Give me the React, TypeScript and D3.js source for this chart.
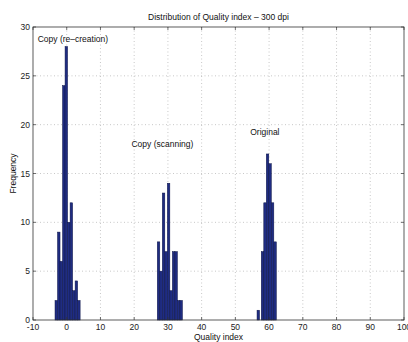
import React from 'react';
import * as d3 from 'd3';

// histogram bins (bin centre, count)
const binWidth = 0.745;
const recreationCenters = [-3.1, -2.36, -1.61, -0.87, -0.12, 0.62, 1.37, 2.11, 2.86, 3.6];
const recreationCounts = [2, 9, 6, 24, 28, 10, 12, 3, 4, 2];
const scanningCenters = [27.22, 27.97, 28.71, 29.46, 30.2, 30.95, 31.69, 32.44, 33.18, 33.93];
const scanningCounts = [8, 5, 13, 7, 14, 3, 7, 7, 2, 2];
const originalCenters = [56.8, 58.05, 58.8, 59.54, 60.29, 61.03, 61.78];
const originalCounts = [1, 7, 12, 17, 16, 12, 8];

const xTicks = [-10, 0, 10, 20, 30, 40, 50, 60, 70, 80, 90, 100];
const yTicks = [0, 5, 10, 15, 20, 25, 30];

const labels = [
  { text: 'Copy (re\u2013creation)', x: -8.6, y: 28.8 },
  { text: 'Copy (scanning)', x: 19.2, y: 18.0 },
  { text: 'Original', x: 54.4, y: 19.25 },
];

const W = 408;
const H = 342;
const font = '"Liberation Sans", Arial, Helvetica, sans-serif';

export default function App() {
  const left = 33, right = 404, top = 27, bottom = 320;
  const x = d3.scaleLinear().domain([-10, 100]).range([left, right]);
  const y = d3.scaleLinear().domain([0, 30]).range([bottom, top]);

  const bins = [
    ...recreationCenters.map((c, i) => ({ c, n: recreationCounts[i] })),
    ...scanningCenters.map((c, i) => ({ c, n: scanningCounts[i] })),
    ...originalCenters.map((c, i) => ({ c, n: originalCounts[i] })),
  ];

  const tick = 3;

  return (
    <svg width={W} height={H} style={{ position: 'absolute', left: 0, top: 0, background: '#fff' }}
      fontFamily={font}>
      {/* grid */}
      {xTicks.slice(1, -1).map(t => (
        <line key={'gx' + t} x1={x(t)} x2={x(t)} y1={top} y2={bottom}
          stroke="#b0b0b0" strokeWidth={0.7} strokeDasharray="1,2.5" />
      ))}
      {yTicks.slice(1, -1).map(t => (
        <line key={'gy' + t} x1={left} x2={right} y1={y(t)} y2={y(t)}
          stroke="#b0b0b0" strokeWidth={0.7} strokeDasharray="1,2.5" />
      ))}

      {/* bars */}
      {bins.map((b, i) => (
        <rect key={i} x={x(b.c - binWidth / 2)} y={y(b.n)}
          width={x(b.c + binWidth / 2) - x(b.c - binWidth / 2)} height={y(0) - y(b.n)}
          fill="#1f2c82" stroke="#0c1445" strokeWidth={0.5} />
      ))}

      {/* box */}
      <rect x={left} y={top} width={right - left} height={bottom - top}
        fill="none" stroke="#333" strokeWidth={0.8} />

      {/* ticks */}
      {xTicks.map(t => (
        <g key={'tx' + t}>
          <line x1={x(t)} x2={x(t)} y1={bottom} y2={bottom - tick} stroke="#333" strokeWidth={0.7} />
          <line x1={x(t)} x2={x(t)} y1={top} y2={top + tick} stroke="#333" strokeWidth={0.7} />
          <text x={x(t)} y={330} fontSize={8.5} textAnchor="middle" fill="#222">{t}</text>
        </g>
      ))}
      {yTicks.map(t => (
        <g key={'ty' + t}>
          <line x1={left} x2={left + tick} y1={y(t)} y2={y(t)} stroke="#333" strokeWidth={0.7} />
          <line x1={right} x2={right - tick} y1={y(t)} y2={y(t)} stroke="#333" strokeWidth={0.7} />
          <text x={left - 3} y={y(t) + 3} fontSize={8.5} textAnchor="end" fill="#222">{t}</text>
        </g>
      ))}

      {/* annotations */}
      {labels.map(l => (
        <text key={l.text} x={x(l.x)} y={y(l.y) + 3} fontSize={8.5} fill="#111">{l.text}</text>
      ))}

      <text x={(left + right) / 2} y={20} fontSize={8.5} textAnchor="middle" fill="#111">
        Distribution of Quality index {'\u2013'} 300 dpi
      </text>
      <text x={(left + right) / 2} y={340} fontSize={8.5} textAnchor="middle" fill="#111">Quality index</text>
      <text transform={`translate(16,${(top + bottom) / 2}) rotate(-90)`} fontSize={8.5}
        textAnchor="middle" fill="#111">Frequency</text>
    </svg>
  );
}
